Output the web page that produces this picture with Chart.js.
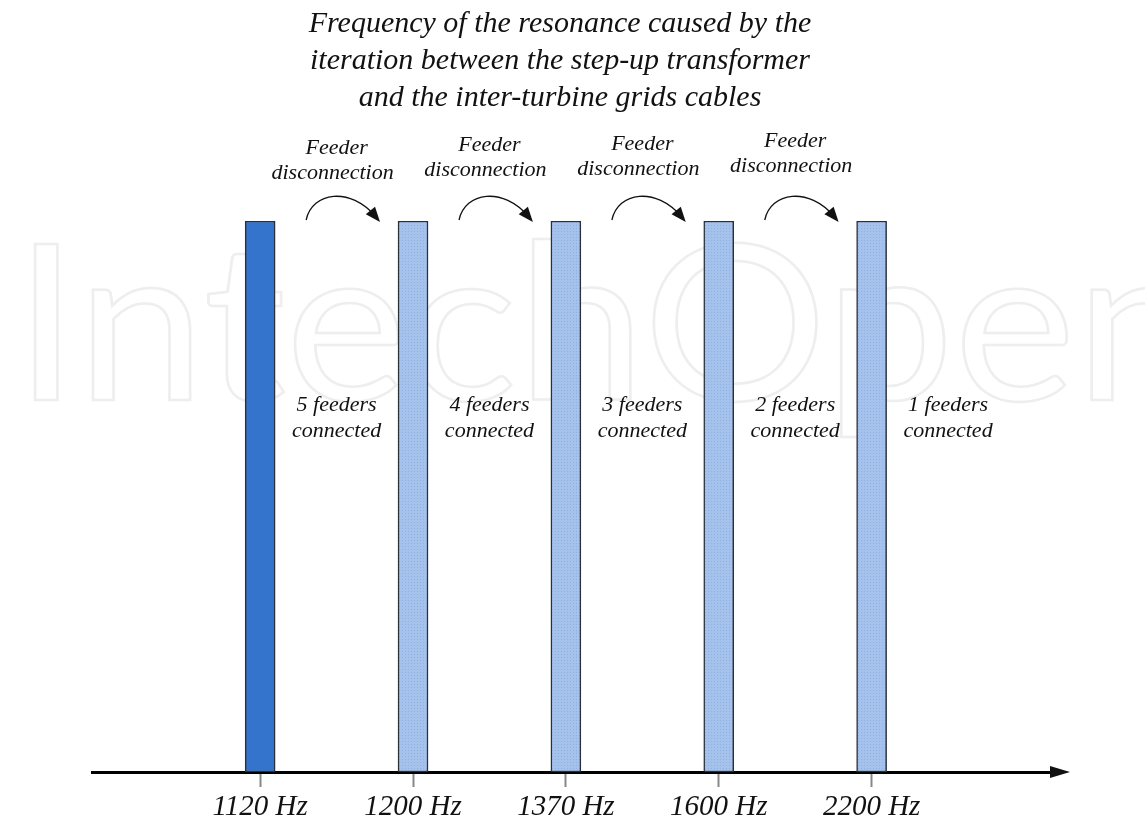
<!DOCTYPE html>
<html>
<head>
<meta charset="utf-8">
<script src="https://cdn.jsdelivr.net/npm/chart.js@4/dist/chart.umd.min.js"></script>
<style>
  html, body { margin: 0; padding: 0; background: #fff; }
  canvas { display: block; }
</style>
</head>
<body>
<canvas id="result" width="1145" height="822"></canvas>
<script>
// resonance frequency for each number of connected feeders
const frequencies = ['1120 Hz', '1200 Hz', '1370 Hz', '1600 Hz', '2200 Hz'];
const feedersConnected = [5, 4, 3, 2, 1];
const barHeight = [1, 1, 1, 1, 1];

const titleLines = [
    'Frequency of the resonance caused by the',
    'iteration between the step-up transformer',
    'and the inter-turbine grids cables'
];

const serif = '"Liberation Serif", "Times New Roman", serif';

// light bars get a fine dotted fill
function dottedFill() {
    const c = document.createElement('canvas');
    c.width = 3; c.height = 3;
    const g = c.getContext('2d');
    g.fillStyle = '#a4c2ec';
    g.fillRect(0, 0, 3, 3);
    g.fillStyle = '#8fb1e2';
    g.fillRect(0, 0, 1, 1);
    return g.createPattern(c, 'repeat');
}
const lightFill = dottedFill();

const watermark = {
    id: 'watermark',
    beforeDatasetsDraw(chart) {
        const ctx = chart.ctx;
        ctx.save();
        ctx.font = '400 218px Lato, "Open Sans", sans-serif';
        ctx.textBaseline = 'alphabetic';
        ctx.textAlign = 'left';
        const w = ctx.measureText('IntechOpen').width;
        ctx.translate(14, 400);
        ctx.scale(1190 / w, 1);
        ctx.strokeStyle = '#eeeeee';
        ctx.lineWidth = 2.5;
        ctx.strokeText('IntechOpen', 0, 0);
        ctx.restore();
    }
};

const annotations = {
    id: 'annotations',
    afterDraw(chart) {
        const ctx = chart.ctx;
        const x = chart.scales.x;
        const area = chart.chartArea;
        ctx.save();
        ctx.fillStyle = '#111';
        ctx.textAlign = 'center';
        ctx.textBaseline = 'alphabetic';

        // title
        ctx.font = 'italic 30px ' + serif;
        titleLines.forEach((line, i) => ctx.fillText(line, 560, 32 + i * 37));

        const step = x.getPixelForValue(1) - x.getPixelForValue(0);
        const lift = [0, -3, -4, -7];

        for (let i = 0; i < frequencies.length; i++) {
            const cx = x.getPixelForValue(i);

            // feeders still connected, right of each bar
            ctx.font = 'italic 22px ' + serif;
            ctx.fillText(feedersConnected[i] + ' feeders', cx + step / 2, 411);
            ctx.fillText('connected', cx + step / 2, 437);

            if (i === frequencies.length - 1) continue;

            // disconnection step to the next bar
            const mx = cx + step / 2;
            const dy = lift[i];
            ctx.fillText('Feeder', mx, 154 + dy);
            ctx.fillText('disconnection', mx - 4, 179 + dy);

            const x0 = cx + 46, y0 = 220;
            const x1 = cx + step - 33, y1 = 222;
            const c1x = x0 + 6, c1y = 192;
            const c2x = x1 - 30, c2y = 186;
            ctx.beginPath();
            ctx.moveTo(x0, y0);
            ctx.bezierCurveTo(c1x, c1y, c2x, c2y, x1 - 4, y1 - 5);
            ctx.strokeStyle = '#111';
            ctx.lineWidth = 1.3;
            ctx.stroke();

            const ang = Math.atan2(y1 - c2y, x1 - c2x);
            ctx.beginPath();
            ctx.moveTo(x1, y1);
            ctx.lineTo(x1 - 15 * Math.cos(ang) + 6 * Math.sin(ang), y1 - 15 * Math.sin(ang) - 6 * Math.cos(ang));
            ctx.lineTo(x1 - 15 * Math.cos(ang) - 6 * Math.sin(ang), y1 - 15 * Math.sin(ang) + 6 * Math.cos(ang));
            ctx.closePath();
            ctx.fill();
        }

        // arrowhead on the frequency axis
        const ay = area.bottom;
        ctx.beginPath();
        ctx.moveTo(area.right - 2, ay - 6);
        ctx.lineTo(area.right + 18, ay);
        ctx.lineTo(area.right - 2, ay + 6);
        ctx.closePath();
        ctx.fill();
        ctx.restore();
    }
};

const ctx = document.getElementById('result').getContext('2d');

new Chart(ctx, {
    type: 'bar',
    data: {
        datasets: [{
            data: barHeight.map((h, i) => ({ x: i, y: h })),
            backgroundColor: barHeight.map((_, i) => i === 0 ? '#3574cd' : lightFill),
            borderColor: '#2a2f3a',
            borderWidth: 1.5,
            borderSkipped: false,
            barThickness: 30
        }]
    },
    options: {
        responsive: false,
        devicePixelRatio: 1,
        animation: false,
        layout: { padding: { left: 92, right: 93, top: 221, bottom: 0 } },
        scales: {
            x: {
                type: 'linear',
                min: -1.1,
                max: 5.18,
                offset: false,
                afterBuildTicks: scale => {
                    scale.ticks = frequencies.map((_, i) => ({ value: i }));
                },
                afterFit: scale => {
                    scale.height = 50;
                },
                ticks: {
                    callback: v => frequencies[v],
                    color: '#111',
                    padding: 9,
                    maxRotation: 0,
                    autoSkip: false,
                    font: { family: serif, style: 'italic', size: 29, lineHeight: 0.8 }
                },
                grid: {
                    offset: false,
                    drawOnChartArea: false,
                    drawTicks: true,
                    tickLength: 15,
                    tickColor: '#888',
                    tickWidth: 2
                },
                border: { display: true, color: '#000', width: 3 }
            },
            y: {
                display: false,
                min: 0,
                max: 1
            }
        },
        plugins: {
            legend: { display: false },
            tooltip: { enabled: false }
        }
    },
    plugins: [watermark, annotations]
});
</script>
</body>
</html>
